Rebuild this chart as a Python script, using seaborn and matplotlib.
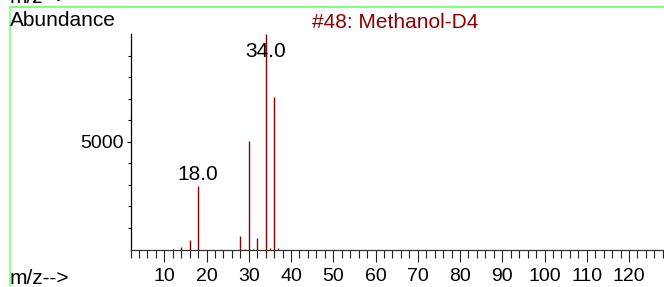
import matplotlib
matplotlib.use("Agg")
import matplotlib.pyplot as plt
from matplotlib.lines import Line2D
from matplotlib.ticker import MultipleLocator, FixedLocator
import seaborn as sns
import pandas as pd

# spectrum #48: Methanol-D4
mz = [12, 14, 16, 18, 28, 29, 30, 31, 32, 34, 35, 36, 37]
abundance = [40, 110, 440, 2960, 630, 30, 5050, 40, 530, 10000, 70, 7060, 60]
labeled_peaks = [18, 34]
title = "#48: Methanol-D4"

red = "#8b0000"
sns.set_theme(style="white")
plt.rcParams["font.family"] = ["Liberation Sans", "DejaVu Sans"]
plt.rcParams["text.color"] = "black"
plt.rcParams["xtick.color"] = "black"
plt.rcParams["ytick.color"] = "black"

df = pd.DataFrame({"mz": mz, "abundance": abundance})

fig = plt.figure(figsize=(6.64, 2.87), dpi=100)
ax = fig.add_axes([130.5 / 664, 37.5 / 287, 532.3 / 664, 215.5 / 287])

ax.vlines(df["mz"], 0, df["abundance"], color=red, lw=1.0)
sns.despine(ax=ax)

ax.set_xlim(2, 128)
ax.set_ylim(0, 10000)
ax.xaxis.set_major_locator(FixedLocator(range(10, 130, 10)))
ax.xaxis.set_minor_locator(MultipleLocator(2))
ax.yaxis.set_major_locator(FixedLocator([5000]))
ax.yaxis.set_minor_locator(FixedLocator([1000, 2000, 3000, 4000, 6000, 7000, 8000, 9000]))
ax.tick_params(axis="x", which="major", direction="out", length=8.6, width=0.8,
               color="#222222", labelsize=14, pad=4.5, bottom=True)
ax.tick_params(axis="x", which="minor", direction="out", length=5.4, width=0.8,
               color="#222222", bottom=True)
ax.tick_params(axis="y", which="major", direction="out", length=2.6, width=0.8,
               color="black", labelsize=14, pad=2, left=True)
ax.tick_params(axis="y", which="minor", direction="out", length=2.2, width=0.8,
               color="black", left=True)
for s in ["left", "bottom"]:
    ax.spines[s].set_color("black")
    ax.spines[s].set_linewidth(0.9)
ax.spines["bottom"].set_color("#333333")

for p in labeled_peaks:
    v = df.loc[df["mz"] == p, "abundance"].iloc[0]
    ax.annotate(f"{p:.1f}", (p, min(v, 8700)), xytext=(0, 1), textcoords="offset points",
                ha="center", va="bottom", fontsize=15, color="black")

fig.text(10 / 664, 1 - 26.5 / 287, "Abundance", fontsize=15, va="baseline", ha="left")
fig.text(395.5 / 664, 1 - 27.5 / 287, title, fontsize=15, va="baseline", ha="center", color=red)
fig.text(10 / 664, 3 / 287, "m/z-->", fontsize=15, va="baseline", ha="left")
fig.text(10 / 664, 1 - 3 / 287, "m/z-->", fontsize=15, va="baseline", ha="left")

green = "#80ff80"
fig.add_artist(Line2D([9.5 / 664, 1], [1 - 6.7 / 287] * 2, transform=fig.transFigure, color=green, lw=1.5))
fig.add_artist(Line2D([9.5 / 664] * 2, [0, 1 - 6.7 / 287], transform=fig.transFigure, color=green, lw=1.2))

fig.savefig("out.png", dpi=100)
